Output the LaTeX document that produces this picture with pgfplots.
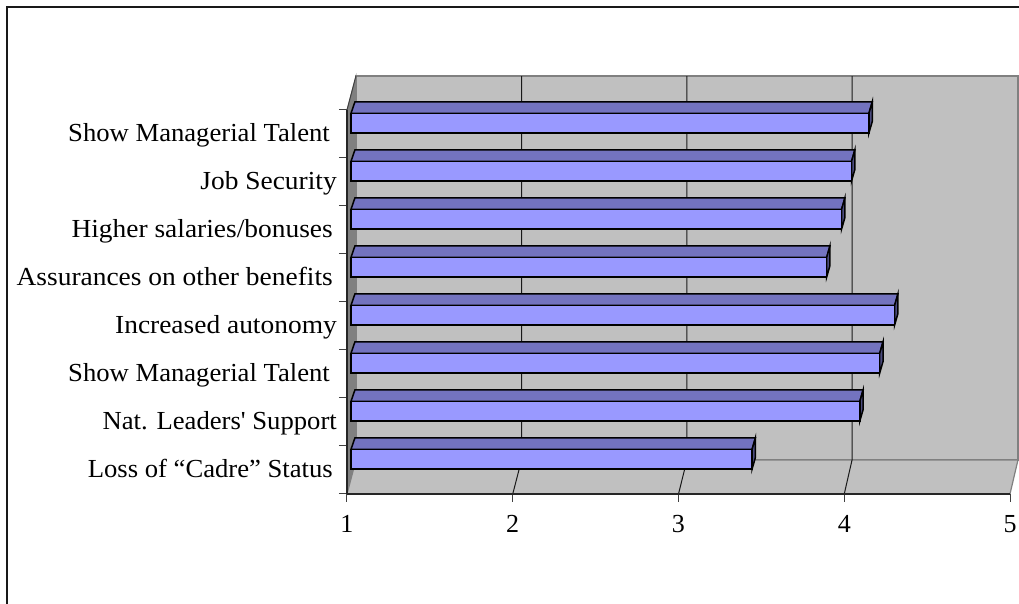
\documentclass[border=0pt]{standalone}
\usepackage{pgfplots}
\usepackage{pgfplotstable}
\usepackage{fontspec}
\setmainfont{Liberation Serif}
\newfontfamily\wa[FakeStretch=1.025]{Liberation Serif}
\newfontfamily\wb[FakeStretch=1.055]{Liberation Serif}
\pgfplotsset{compat=1.18}
\definecolor{wall}{HTML}{C0C0C0}
\definecolor{sidewall}{HTML}{808080}
\definecolor{barfront}{HTML}{9999FF}
\definecolor{bartop}{HTML}{7373BF}
\definecolor{barside}{HTML}{4C4C80}
% y = position of the bar centre, v = value
\pgfplotstableread{
y v
0.725 3.42
1.725 4.07
2.725 4.19
3.725 4.28
4.725 3.87
5.725 3.96
6.725 4.02
7.725 4.125
}\bardata
\begin{document}
\begin{tikzpicture}
\path[use as bounding box] (-347pt,-110pt) rectangle (672pt,494pt);
\draw[black!90,line width=1.5pt] (-340pt,-110pt) -- (-340pt,487pt) -- (672pt,487pt);
\begin{axis}[scale only axis,width=663pt,height=384pt,
xmin=1,xmax=5,ymin=0,ymax=8,clip=false,axis on top,
axis x line*=bottom,axis y line*=left,
axis line style={black!85,line width=1.2pt,-},
xtick={1,2,3,4,5},
ytick={0.5,1.5,2.5,3.5,4.5,5.5,6.5,7.5},
yticklabels={{\wa Loss of “Cadre” Status\hspace*{4pt}},{\wa Nat. Leaders' Support},{\wa Show Managerial Talent\hspace*{7pt}},{\wb Increased autonomy},{\wb Assurances on other benefits\hspace*{4pt}},{\wb Higher salaries/bonuses\hspace*{4pt}},{\wb Job Security},{\wa Show Managerial Talent\hspace*{7pt}}},
minor ytick={0,1,...,8},
tick align=outside,major tick length=8pt,minor tick length=8pt,
major y tick style={draw=none},
minor y tick style={black!75,line width=1pt},
x tick style={black!75,line width=1pt},
tick label style={font=\fontsize{26}{26}\selectfont},
xticklabel style={anchor=base,yshift=-31pt,inner sep=0pt},
yticklabel style={anchor=base east,inner sep=0pt,xshift=-2pt,yshift=-8pt},
/pgf/number format/assume math mode=true,
]
% back wall, side wall, floor
\addplot[fill=wall,draw=sidewall,line width=1.2pt] coordinates {(1.054,0.708)(5.048,0.708)(5.048,8.708)(1.054,8.708)} --cycle;
\addplot[fill=sidewall,draw=sidewall,line width=0.8pt] coordinates {(1,0)(1.054,0.708)(1.054,8.708)(1,8)} --cycle;
\addplot[fill=wall,draw=sidewall,line width=1.2pt] coordinates {(1,0)(5,0)(5.048,0.708)(1.054,0.708)} --cycle;
\addplot[black!75,line width=1pt] coordinates {(1,8)(1.054,8.708)};
% grid lines
\addplot[black!90,line width=1pt] coordinates {(2,0)(2.053,0.708)(2.053,8.708)};
\addplot[black!90,line width=1pt] coordinates {(3,0)(3.051,0.708)(3.051,8.708)};
\addplot[black!90,line width=1pt] coordinates {(4,0)(4.047,0.708)(4.047,8.708)};
% bars: top and side faces first, then the front
\pgfplotsinvokeforeach{0,...,7}{
  \pgfplotstablegetelem{#1}{v}\of\bardata
  \pgfmathsetmacro\ve{\pgfplotsretval+0.024}
  \pgfmathsetmacro\vb{\ve+0.02}
  \pgfmathsetmacro\yt{#1+0.93}
  \pgfmathsetmacro\yb{#1+0.52}
  \pgfmathsetmacro\yu{\yt+0.24}
  \pgfmathsetmacro\yv{\yb+0.24}
  \addplot[fill=bartop,draw=black,line width=1.5pt] coordinates {(1.024,\yt)(\ve,\yt)(\vb,\yu)(1.048,\yu)} --cycle;
  \addplot[fill=barside,draw=black,line width=1.5pt] coordinates {(\ve,\yt)(\vb,\yu)(\vb,\yv)(\ve,\yb)} --cycle;
}
\addplot[xbar,bar width=19.7pt,xshift=4pt,fill=barfront,draw=black,line width=1.5pt] table[x=v,y=y] {\bardata};
\end{axis}
\end{tikzpicture}
\end{document}
